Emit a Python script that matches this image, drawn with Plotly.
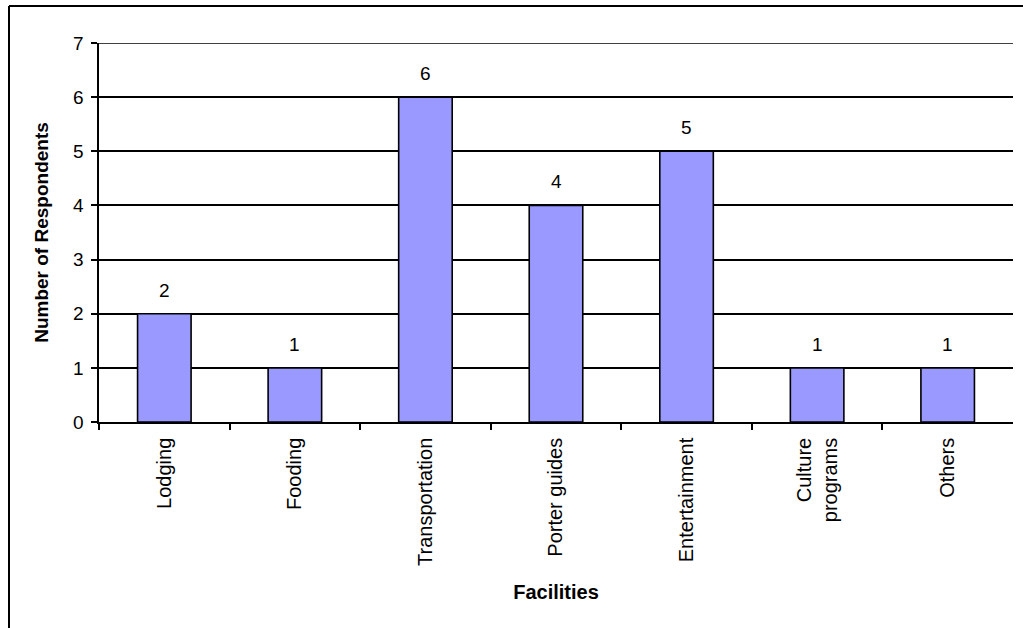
import plotly.graph_objects as go

# Survey results: facilities respondents asked for
facilities = ["Lodging", "Fooding", "Transportation", "Porter guides",
              "Entertainment", "Culture<br>programs", "Others"]
respondents = [2, 1, 6, 4, 5, 1, 1]
y_ticks = [0, 1, 2, 3, 4, 5, 6, 7]

FONT = "Liberation Sans, Arial, sans-serif"

fig = go.Figure(
    go.Bar(
        x=facilities,
        y=respondents,
        width=0.41,
        marker=dict(color="#9999FF", line=dict(color="black", width=1.6)),
        hoverinfo="x+y",
    )
)

# value labels above each bar
for cat, val in zip(facilities, respondents):
    fig.add_annotation(
        x=cat, y=val, text=str(val), showarrow=False,
        xanchor="center", yanchor="bottom", yshift=11,
        font=dict(family=FONT, size=19, color="black"),
    )

# the paper area is the whole chart frame; the plot sits inside it via domains
fig.update_layout(
    width=1023,
    height=628,
    margin=dict(l=9, r=0, t=6, b=0),
    paper_bgcolor="white",
    plot_bgcolor="white",
    showlegend=False,
    font=dict(family=FONT, color="black"),
    xaxis=dict(
        domain=[0.0888, 0.9901],
        type="category",
        tickson="boundaries",
        ticks="outside",
        ticklen=6,
        tickwidth=1.5,
        tickcolor="black",
        tickangle=-90,
        ticklabelstandoff=6,
        tickfont=dict(family=FONT, size=20, color="black"),
        showline=True,
        linecolor="black",
        linewidth=1.5,
        showgrid=False,
        automargin=False,
        title=dict(text="<b>Facilities</b>", font=dict(family=FONT, size=20), standoff=20),
    ),
    yaxis=dict(
        domain=[0.3312, 0.9405],
        range=[0, 7],
        tickvals=y_ticks,
        ticks="outside",
        ticklen=6,
        tickwidth=1.5,
        tickcolor="black",
        ticklabelstandoff=4,
        tickfont=dict(family=FONT, size=19, color="black"),
        showline=True,
        linecolor="black",
        linewidth=1.5,
        showgrid=True,
        gridcolor="black",
        gridwidth=1.5,
        zeroline=False,
        automargin=False,
        title=dict(text="<b>Number of Respondents</b>", font=dict(family=FONT, size=19), standoff=19),
    ),
)

# top gridline at the upper end of the value axis
fig.add_shape(type="line", xref="x domain", yref="y", x0=0, x1=1, y0=7, y1=7,
              line=dict(color="black", width=1.5))
# chart area frame: left and top edges
fig.add_shape(type="line", xref="paper", yref="paper",
              x0=0, x1=0, y0=0, y1=1,
              line=dict(color="black", width=2))
fig.add_shape(type="line", xref="paper", yref="paper",
              x0=0, x1=1, y0=1, y1=1,
              line=dict(color="black", width=2))

fig.write_html("out.html", config={"displayModeBar": False})
